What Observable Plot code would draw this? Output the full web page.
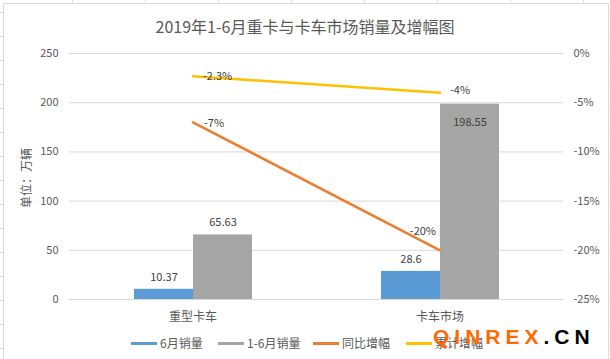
<!DOCTYPE html>
<html>
<head>
<meta charset="utf-8">
<script src="https://cdn.jsdelivr.net/npm/d3@7"></script>
<script src="https://cdn.jsdelivr.net/npm/@observablehq/plot@0.6"></script>
<style>
  html, body { margin: 0; padding: 0; }
  body {
    width: 610px; height: 359px; overflow: hidden; position: relative;
    background-color: #fff;
    background-image:
      repeating-linear-gradient(to right, transparent 0, transparent 72px, #dcdcdc 72px, #dcdcdc 73px),
      repeating-linear-gradient(to bottom, transparent 0, transparent 12px, #dcdcdc 12px, #dcdcdc 13px, transparent 13px, transparent 24px);
    font-family: "Noto Sans CJK SC", "Noto Sans", sans-serif;
    color: #595959;
  }
  #chart {
    position: absolute; left: 3px; top: 3px; width: 604px; height: 370px;
    background: #fff; border-left: 1px solid #d9d9d9; border-top: 1px solid #d9d9d9; border-right: 1px solid #d9d9d9;
  }
  #plot { position: absolute; left: 0; top: 0; }
  .abs { position: absolute; white-space: nowrap; }
  #title { left: 0; width: 610px; top: 15px; text-align: center; font-size: 16px; line-height: 22px; }
  #ylabel { left: 25px; top: 178px; font-size: 12px; transform: translate(-50%, -50%) rotate(-90deg); }
  #legend { left: 0; top: 335px; height: 16px; font-size: 12px; line-height: 16px; }
  .item { position: absolute; top: 0; display: flex; align-items: center; height: 16px; }
  .sw { width: 26px; height: 3px; margin-right: 3px; }
  #wm { left: 433px; top: 326px; font-family: "Liberation Sans", Arial, sans-serif; font-weight: bold; font-size: 21px; line-height: 21px; letter-spacing: 5px; }
</style>
</head>
<body>
<div id="chart"></div>
<div id="plot" class="abs"></div>
<div id="title" class="abs"></div>
<div id="ylabel" class="abs"></div>
<div id="legend" class="abs"></div>
<div id="wm" class="abs"><span style="color:#FF6A00">QINREX</span><span style="color:#000">.CN</span></div>
<script>
const titleText = "2019年1-6月重卡与卡车市场销量及增幅图";
const yAxisTitle = "单位：万辆";
const categories = ["重型卡车", "卡车市场"];
const seriesNames = ["6月销量", "1-6月销量", "同比增幅", "累计增幅"];
const juneSales = [10.37, 28.6];
const halfYearSales = [65.63, 198.55];
const yoyGrowth = [-7, -20];
const cumGrowth = [-2.3, -4];
const leftTicks = [0, 50, 100, 150, 200, 250];
const rightTicks = [0, -5, -10, -15, -20, -25];

const colors = ["#5B9BD5", "#A5A5A5", "#ED7D31", "#FFC000"];
const txt = "#595959";
const font = '"Noto Sans CJK SC", "Noto Sans", sans-serif';

const leftDomain = [0, 250];
const rightDomain = [-25, 0];
const toLeft = p => leftDomain[0] + (p - rightDomain[0]) / (rightDomain[1] - rightDomain[0]) * (leftDomain[1] - leftDomain[0]);
const fromLeft = v => Math.round(rightDomain[0] + (v - leftDomain[0]) / (leftDomain[1] - leftDomain[0]) * (rightDomain[1] - rightDomain[0]));

const june = categories.map((c, i) => ({cat: c, v: juneSales[i]}));
const half = categories.map((c, i) => ({cat: c, v: halfYearSales[i]}));
const yoy = categories.map((c, i) => ({cat: c, v: yoyGrowth[i], y: toLeft(yoyGrowth[i])}));
const cum = categories.map((c, i) => ({cat: c, v: cumGrowth[i], y: toLeft(cumGrowth[i])}));
const pct = d => `${d.v}%`;

const chart = Plot.plot({
  width: 610,
  height: 359,
  marginLeft: 69,
  marginRight: 47,
  marginTop: 53,
  marginBottom: 60,
  x: {domain: categories, padding: 0},
  y: {domain: leftDomain},
  style: {fontFamily: font, fontSize: "11px", color: txt, background: "transparent", overflow: "visible"},
  marks: [
    Plot.ruleY(leftTicks, {stroke: "#d9d9d9", strokeWidth: 1}),
    Plot.axisY({ticks: leftTicks, anchor: "left", tickSize: 0, tickPadding: 11, label: null, fill: txt, fontSize: 11}),
    Plot.axisY({ticks: rightTicks.map(toLeft), anchor: "right", tickSize: 0, tickPadding: 10, label: null, fill: txt, fontSize: 11, tickFormat: v => `${fromLeft(v)}%`}),
    Plot.axisX({tickSize: 0, tickPadding: 13, label: null, fill: txt, fontSize: 12}),
    Plot.barY(june, {x: "cat", y: "v", fill: colors[0], insetLeft: 65, insetRight: 123}),
    Plot.barY(half, {x: "cat", y: "v", fill: colors[1], insetLeft: 124, insetRight: 64}),
    Plot.line(yoy, {x: "cat", y: "y", stroke: colors[2], strokeWidth: 2.5}),
    Plot.line(cum, {x: "cat", y: "y", stroke: colors[3], strokeWidth: 2.5}),
    Plot.text(june, {x: "cat", y: "v", text: d => `${d.v}`, dx: -29, dy: -12, fill: "#404040", fontSize: 11}),
    Plot.text(half, {filter: (d, i) => i === 0, x: "cat", y: "v", text: d => `${d.v}`, dx: 30, dy: -12, fill: "#404040", fontSize: 11}),
    Plot.text(half, {filter: (d, i) => i === 1, x: "cat", y: "v", text: d => `${d.v}`, dx: 30, dy: 18, fill: "#404040", fontSize: 11}),
    Plot.text(cum, {filter: (d, i) => i === 0, x: "cat", y: "y", text: pct, textAnchor: "start", dx: 10, dy: 0, fill: "#404040", fontSize: 11}),
    Plot.text(cum, {filter: (d, i) => i === 1, x: "cat", y: "y", text: pct, textAnchor: "start", dx: 10, dy: -2, fill: "#404040", fontSize: 11}),
    Plot.text(yoy, {filter: (d, i) => i === 0, x: "cat", y: "y", text: pct, textAnchor: "start", dx: 11, dy: 1, fill: "#404040", fontSize: 11}),
    Plot.text(yoy, {filter: (d, i) => i === 1, x: "cat", y: "y", text: pct, textAnchor: "end", dx: -4, dy: -19, fill: "#404040", fontSize: 11})
  ]
});
document.getElementById("plot").appendChild(chart);

document.getElementById("title").textContent = titleText;
document.getElementById("ylabel").textContent = yAxisTitle;

const legendX = [131, 218, 313, 406];
const legend = document.getElementById("legend");
seriesNames.forEach((name, i) => {
  const item = document.createElement("div");
  item.className = "item";
  item.style.left = legendX[i] + "px";
  const sw = document.createElement("span");
  sw.className = "sw";
  sw.style.background = colors[i];
  const label = document.createElement("span");
  label.textContent = name;
  item.appendChild(sw);
  item.appendChild(label);
  legend.appendChild(item);
});
</script>
</body>
</html>
